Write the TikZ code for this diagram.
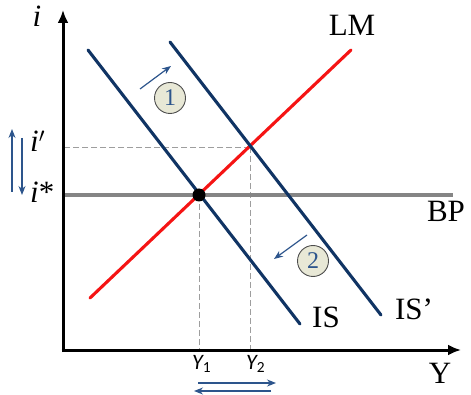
\documentclass[tikz,border=0pt]{standalone}
\usepackage{fontspec}
\setmainfont{Liberation Serif}
\newfontfamily\calfont{Carlito}
\usepackage{tikz}
\usetikzlibrary{arrows.meta}
\usepackage{xcolor}
\definecolor{isb}{RGB}{16,52,100}
\definecolor{lmr}{RGB}{245,20,20}
\definecolor{bpg}{gray}{0.52}
\definecolor{arb}{RGB}{45,85,140}
\definecolor{circf}{RGB}{232,232,214}
\definecolor{dashg}{gray}{0.62}

\tikzset{
  schedline/.style={line width=3.1pt,line cap=round},
  guide/.style={dashg,line width=0.9pt,dash pattern=on 6pt off 3pt},
  movearrow/.style={arb,line width=1.2pt,-{Stealth[length=9pt,width=7pt]}},
  stepcirc/.style={circle,draw=black!70,line width=0.9pt,fill=circf,minimum size=31pt,inner sep=0pt,text=arb,font=\fontsize{24}{24}\selectfont},
  lab/.style={font=\fontsize{31}{31}\selectfont,inner sep=0pt},
  ylab/.style={inner sep=0pt,anchor=base west,font=\fontsize{22}{22}\calfont\itshape}
}

\begin{document}
\begin{tikzpicture}[x=1pt,y=-1pt]
  \useasboundingbox (0,0) rectangle (471,395);
  \coordinate (O) at (63,350);
  \coordinate (ytop) at (63,10);
  \coordinate (xend) at (461,350);
  \coordinate (IS-a) at (88,50);
  \coordinate (IS-b) at (300,324);
  \coordinate (ISp-a) at (170,42);
  \coordinate (ISp-b) at (381,315);
  \coordinate (LM-a) at (90,298);
  \coordinate (LM-b) at (351,50);
  \coordinate (BP-a) at (63,195);
  \coordinate (BP-b) at (453,195);
  \coordinate (F) at (250,147);
  \coordinate (E) at (199,195);
  \draw[guide] (F) -- (F -| O);
  \draw[guide] (F) -- (F |- O);
  \draw[guide] (E) -- (E |- O);
  \draw[bpg,line width=3.1pt] (BP-a) -- (BP-b);
  \draw[lmr,schedline] (LM-a) -- (LM-b);
  \draw[isb,schedline] (IS-a) -- (IS-b);
  \draw[isb,schedline] (ISp-a) -- (ISp-b);
  \node[circle,fill=black,inner sep=0pt,minimum size=13pt] (Edot) at (E) {};
  \draw[line width=3pt,-{Latex[length=13pt,width=11pt]}] (O) ++(0,2) -- (ytop);
  \draw[line width=3pt,-{Latex[length=13pt,width=11pt]}] (O) ++(-1.5,0) -- (xend);
  \node[lab] (LM) at (352,25) {LM};
  \node[lab] (BP) at (446,211) {BP};
  \node[lab] (IS) at (326,317) {IS};
  \node[lab] (ISp) at (414,309) {IS’};
  \node[lab] (Y) at (440,373) {Y};
  \node[lab,anchor=base] (i) at (37,27) {\textit{i}};
  \node[lab,anchor=base west] (ip) at (30,152) {\textit{i}$'$};
  \node[lab,anchor=base west] (is) at (30,203) {\textit{i}*};
  \node[ylab] (Y1) at (192,369) {Y{\upshape\textsubscript{1}}};
  \node[ylab] (Y2) at (246,369) {Y{\upshape\textsubscript{2}}};
  \node[stepcirc] (c1) at (170,98) {1};
  \node[stepcirc] (c2) at (313,261) {2};
  \coordinate (a1) at (140,89);
  \coordinate (b1) at (171,66);
  \draw[movearrow] (a1) -- (b1);
  \coordinate (a2) at (307,235);
  \coordinate (b2) at (274,259);
  \draw[movearrow] (a2) -- (b2);
  \coordinate (u1) at (12,192);
  \coordinate (u2) at (12,129);
  \draw[movearrow] (u1) -- (u2);
  \coordinate (d1) at (22,138);
  \coordinate (d2) at (22,195);
  \draw[movearrow] (d1) -- (d2);
  \coordinate (r1) at (198,383);
  \coordinate (r2) at (276,383);
  \draw[movearrow] (r1) -- (r2);
  \coordinate (l1) at (271,391);
  \coordinate (l2) at (194,391);
  \draw[movearrow] (l1) -- (l2);
\end{tikzpicture}
\end{document}
